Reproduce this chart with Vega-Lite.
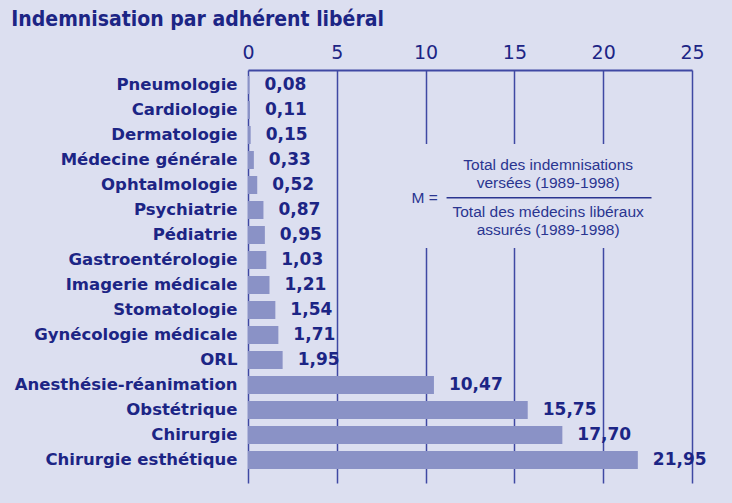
{
  "$schema": "https://vega.github.io/schema/vega-lite/v6.json",
  "width": 444,
  "height": 413,
  "autosize": "none",
  "padding": {"left": 248, "top": 70, "right": 40, "bottom": 20},
  "background": "#dcdff0",
  "title": {
    "text": "Indemnisation par adhérent libéral",
    "anchor": "start",
    "dx": -3,
    "offset": 13,
    "font": "DejaVu Sans Condensed, Liberation Sans Narrow, Liberation Sans, sans-serif",
    "fontSize": 21,
    "fontWeight": "bold",
    "color": "#1c2585"
  },
  "config": {
    "view": {"stroke": null},
    "locale": {"number": {"decimal": ",", "thousands": " ", "grouping": [3], "currency": ["", " €"]}}
  },
  "resolve": {"scale": {"y": "independent"}},
  "layer": [
    {
      "data": {
        "values": [
          {"specialite": "Pneumologie", "valeur": 0.08},
          {"specialite": "Cardiologie", "valeur": 0.11},
          {"specialite": "Dermatologie", "valeur": 0.15},
          {"specialite": "Médecine générale", "valeur": 0.33},
          {"specialite": "Ophtalmologie", "valeur": 0.52},
          {"specialite": "Psychiatrie", "valeur": 0.87},
          {"specialite": "Pédiatrie", "valeur": 0.95},
          {"specialite": "Gastroentérologie", "valeur": 1.03},
          {"specialite": "Imagerie médicale", "valeur": 1.21},
          {"specialite": "Stomatologie", "valeur": 1.54},
          {"specialite": "Gynécologie médicale", "valeur": 1.71},
          {"specialite": "ORL", "valeur": 1.95},
          {"specialite": "Anesthésie-réanimation", "valeur": 10.47},
          {"specialite": "Obstétrique", "valeur": 15.75},
          {"specialite": "Chirurgie", "valeur": 17.70},
          {"specialite": "Chirurgie esthétique", "valeur": 21.95}
        ]
      },
      "encoding": {
        "y": {
          "field": "specialite",
          "type": "nominal",
          "sort": null,
          "scale": {"paddingInner": 0.28, "paddingOuter": 0.4, "align": 0.3},
          "axis": {
            "title": null,
            "ticks": false,
            "domain": false,
            "labelFont": "DejaVu Sans",
            "labelFontWeight": "bold",
            "labelFontSize": 16.5,
            "labelColor": "#1c2585",
            "labelPadding": 11,
            "labelLimit": 300
          }
        },
        "x": {
          "field": "valeur",
          "type": "quantitative",
          "scale": {"domain": [0, 25], "nice": false},
          "axis": {
            "orient": "top",
            "values": [0, 5, 10, 15, 20, 25],
            "title": null,
            "ticks": false,
            "grid": true,
            "gridColor": "#3f48a3",
            "gridWidth": 1.5,
            "gridOpacity": 1,
            "domainColor": "#3f48a3",
            "domainWidth": 2,
            "labelFont": "DejaVu Sans",
            "labelFontSize": 19,
            "labelColor": "#1c2585",
            "labelPadding": 8,
            "labelFlush": false
          }
        }
      },
      "layer": [
        {"mark": {"type": "bar", "color": "#8a92c6"}},
        {
          "mark": {"type": "text", "align": "left", "baseline": "middle", "dx": 15, "font": "DejaVu Sans", "fontWeight": "bold", "fontSize": 17, "color": "#1c2585"},
          "encoding": {"text": {"field": "valeur", "type": "quantitative", "format": ".2f"}}
        }
      ]
    },
    {
      "layer": [
        {
          "data": {"values": [{"x1": 8, "x2": 23.2, "y1": 2.36, "y2": 6.52}]},
          "mark": {"type": "rect", "color": "#dcdff0"},
          "encoding": {
            "x": {"field": "x1", "type": "quantitative"},
            "x2": {"field": "x2"},
            "y": {"field": "y1", "type": "quantitative", "scale": {"domain": [-0.6, 15.92], "reverse": true, "nice": false, "zero": false}, "axis": null},
            "y2": {"field": "y2"}
          }
        },
        {
          "data": {"values": [{"x1": 11.18, "x2": 22.72, "y": 4.51}]},
          "mark": {"type": "rule", "color": "#2a3590", "strokeWidth": 1.5},
          "encoding": {
            "x": {"field": "x1", "type": "quantitative"},
            "x2": {"field": "x2"},
            "y": {"field": "y", "type": "quantitative", "scale": {"domain": [-0.6, 15.92], "reverse": true, "nice": false, "zero": false}, "axis": null}
          }
        },
        {
          "data": {
            "values": [
              {"t": "M =", "x": 9.95, "y": 4.51},
              {"t": "Total des indemnisations", "x": 16.9, "y": 3.2},
              {"t": "versées (1989-1998)", "x": 16.9, "y": 3.92},
              {"t": "Total des médecins libéraux", "x": 16.9, "y": 5.08},
              {"t": "assurés (1989-1998)", "x": 16.9, "y": 5.8}
            ]
          },
          "mark": {"type": "text", "align": "center", "baseline": "middle", "font": "Liberation Sans", "fontSize": 15.5, "color": "#2a3590"},
          "encoding": {
            "x": {"field": "x", "type": "quantitative"},
            "y": {"field": "y", "type": "quantitative", "scale": {"domain": [-0.6, 15.92], "reverse": true, "nice": false, "zero": false}, "axis": null},
            "text": {"field": "t"}
          }
        }
      ]
    }
  ]
}
